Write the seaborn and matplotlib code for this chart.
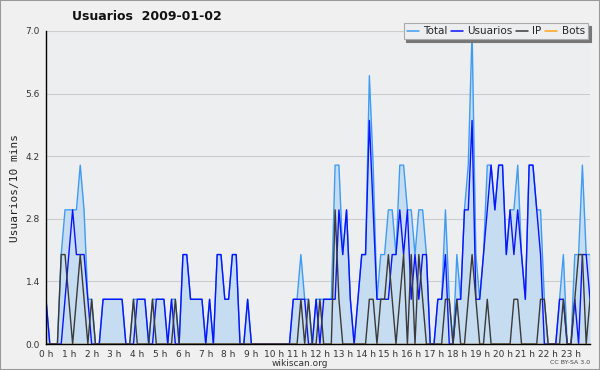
"""
Usuarios por franja de 10 minutos - 2009-01-02 (estilo wikiscan)
"""

import matplotlib
matplotlib.use("Agg")
import matplotlib.pyplot as plt
from matplotlib.lines import Line2D
from matplotlib.patches import Rectangle
import numpy as np
import pandas as pd
import seaborn as sns

# ── Data (one value per 10-minute slot, one row per hour) ─────────────────────
USUARIOS = [
    1, 0, 0, 0, 0, 1,   2, 3, 2, 2, 2, 1,   0, 0, 0, 1, 1, 1,   1, 1, 1, 0, 0, 0,
    1, 1, 1, 0, 0, 1,   1, 1, 0, 1, 0, 0,   2, 2, 1, 1, 1, 1,   0, 1, 0, 2, 2, 1,
    1, 2, 2, 0, 0, 1,   0, 0, 0, 0, 0, 0,   0, 0, 0, 0, 0, 1,   1, 1, 1, 0, 0, 1,
    0, 1, 1, 1, 1, 3,   2, 3, 1, 0, 1, 2,   2, 5, 3, 1, 1, 1,   1, 2, 2, 3, 2, 3,
    1, 2, 1, 2, 2, 0,   0, 1, 1, 2, 0, 0,   1, 1, 3, 3, 5, 1,   1, 2, 3, 4, 3, 4,
    4, 2, 3, 2, 3, 2,   1, 4, 4, 3, 2, 0,   0, 0, 0, 1, 1, 0,   0, 1, 0, 2, 2, 1,
]
IP = [
    0, 0, 0, 0, 2, 2,   1, 0, 1, 2, 1, 0,   1, 0, 0, 0, 0, 0,   0, 0, 0, 0, 0, 1,
    0, 0, 0, 0, 1, 0,   0, 0, 0, 0, 1, 0,   0, 0, 0, 0, 0, 0,   0, 0, 0, 0, 0, 0,
    0, 0, 0, 0, 0, 0,   0, 0, 0, 0, 0, 0,   0, 0, 0, 0, 0, 0,   0, 1, 0, 1, 0, 0,
    1, 0, 0, 0, 3, 1,   0, 0, 0, 0, 0, 0,   0, 1, 1, 0, 1, 1,   2, 1, 0, 1, 2, 0,
    2, 0, 2, 1, 0, 0,   0, 0, 0, 1, 1, 0,   1, 0, 0, 1, 2, 1,   0, 0, 1, 0, 0, 0,
    0, 0, 0, 1, 1, 0,   0, 0, 0, 0, 1, 1,   0, 0, 0, 0, 1, 0,   0, 1, 2, 2, 0, 1,
]
TOTAL = [
    1, 0, 0, 0, 2, 3,   3, 3, 3, 4, 3, 1,   1, 0, 0, 1, 1, 1,   1, 1, 1, 0, 0, 1,
    1, 1, 1, 0, 1, 1,   1, 1, 0, 1, 1, 0,   2, 2, 1, 1, 1, 1,   0, 1, 0, 2, 2, 1,
    1, 2, 2, 0, 0, 1,   0, 0, 0, 0, 0, 0,   0, 0, 0, 0, 0, 1,   1, 2, 1, 1, 0, 1,
    1, 1, 1, 1, 4, 4,   2, 3, 1, 0, 1, 2,   2, 6, 4, 1, 2, 2,   3, 3, 2, 4, 4, 3,
    3, 2, 3, 3, 2, 0,   0, 1, 1, 3, 1, 0,   2, 1, 3, 4, 7, 2,   1, 2, 4, 4, 3, 4,
    4, 2, 3, 3, 4, 2,   1, 4, 4, 3, 3, 1,   0, 0, 0, 1, 2, 0,   0, 2, 2, 4, 2, 2,
]
BOTS = [
    0, 0, 0, 0, 0, 0,   0, 0, 0, 0, 0, 0,   0, 0, 0, 0, 0, 0,   0, 0, 0, 0, 0, 0,
    0, 0, 0, 0, 0, 0,   0, 0, 0, 0, 0, 0,   0, 0, 0, 0, 0, 0,   0, 0, 0, 0, 0, 0,
    0, 0, 0, 0, 0, 0,   0, 0, 0, 0, 0, 0,   0, 0, 0, 0, 0, 0,   0, 0, 0, 0, 0, 0,
    0, 0, 0, 0, 0, 0,   0, 0, 0, 0, 0, 0,   0, 0, 0, 0, 0, 0,   0, 0, 0, 0, 0, 0,
    0, 0, 0, 0, 0, 0,   0, 0, 0, 0, 0, 0,   0, 0, 0, 0, 0, 0,   0, 0, 0, 0, 0, 0,
    0, 0, 0, 0, 0, 0,   0, 0, 0, 0, 0, 0,   0, 0, 0, 0, 0, 0,   0, 0, 0, 0, 0, 0,
]
HOUR_LABELS = [f"{h} h" for h in range(24)]
Y_TICKS = [0.0, 1.4, 2.8, 4.2, 5.6, 7.0]

# ── Style ──────────────────────────────────────────────────────────────────────
sns.set_style("white")
plt.rcParams.update({
    "figure.facecolor": "#f0f0f0",
    "axes.facecolor":   "#eceef0",
    "font.family":      ["DejaVu Sans"],
})
COLORS = {
    "Total":    "#3f9cf2",
    "Usuarios": "#0a14ff",
    "IP":       "#3a3a3a",
    "Bots":     "#ffa31a",
}
FILL = "#c6dcf0"

df = pd.DataFrame({
    "slot": np.arange(len(TOTAL)),
    "Total": TOTAL,
    "Usuarios": USUARIOS,
    "IP": IP,
    "Bots": BOTS,
})

fig = plt.figure(figsize=(6, 3.7), dpi=100)
ax = fig.add_axes([46 / 600, 26 / 370, 544 / 600, 313 / 370])

ax.fill_between(df["slot"], df["Total"], color=FILL, lw=0, zorder=1)
for name in ["Total", "Usuarios", "IP", "Bots"]:
    sns.lineplot(data=df, x="slot", y=name, color=COLORS[name], lw=1.0,
                 ax=ax, zorder=3, legend=False)

ax.set_xlim(0, len(TOTAL) - 1)
ax.set_ylim(0, 7)
ax.set_xticks(range(0, 144, 6))
ax.set_xticklabels(HOUR_LABELS)
ax.set_xticks(range(0, 144), minor=True)
ax.set_yticks(Y_TICKS)
ax.set_yticklabels([f"{v:.1f}" for v in Y_TICKS])
ax.tick_params(axis="both", which="major", direction="out", length=4, width=0.8,
               labelsize=6.5, colors="#000000", labelcolor="#333333", pad=0.5)
ax.tick_params(axis="x", which="minor", direction="out", length=3, width=0.8)
ax.yaxis.grid(True, color="#cccccc", lw=0.8)
ax.set_axisbelow(True)

for side in ["top", "right"]:
    ax.spines[side].set_visible(False)
for side in ["left", "bottom"]:
    ax.spines[side].set_color("#000000")
    ax.spines[side].set_linewidth(1.0)
    ax.spines[side].set_zorder(5)

ax.set_xlabel("")
ax.set_ylabel("Usuarios/10 mins", family="DejaVu Sans Mono", fontsize=8,
              color="#222222", labelpad=4)

fig.text(72 / 600, 1 - 17 / 370, "Usuarios  2009-01-02", fontsize=9,
         fontweight="bold", ha="left", va="center", color="#111111")
fig.text(300 / 600, 1 - 363 / 370, "wikiscan.org", fontsize=6.5,
         ha="center", va="center", color="#333333")
fig.text(590 / 600, 1 - 363 / 370, "CC BY-SA 3.0", fontsize=4.5,
         ha="right", va="center", color="#444444")

handles = [Line2D([], [], color=COLORS[n], lw=1.1) for n in COLORS]
leg = fig.legend(handles, list(COLORS), loc="upper right",
                 bbox_to_anchor=(593 / 600, 1 - 18 / 370), ncol=4, fontsize=7.5,
                 handlelength=1.2, handletextpad=0.4, columnspacing=0.3,
                 borderpad=0.3, fancybox=False, framealpha=1,
                 edgecolor="#aaaaaa", shadow={"color": "#777777", "alpha": 1})
leg.get_frame().set_linewidth(0.8)

fig.patches.append(Rectangle((0, 0), 1, 1, transform=fig.transFigure,
                             fill=False, edgecolor="#999999", lw=1.5))

fig.savefig("out.png", dpi=100)
